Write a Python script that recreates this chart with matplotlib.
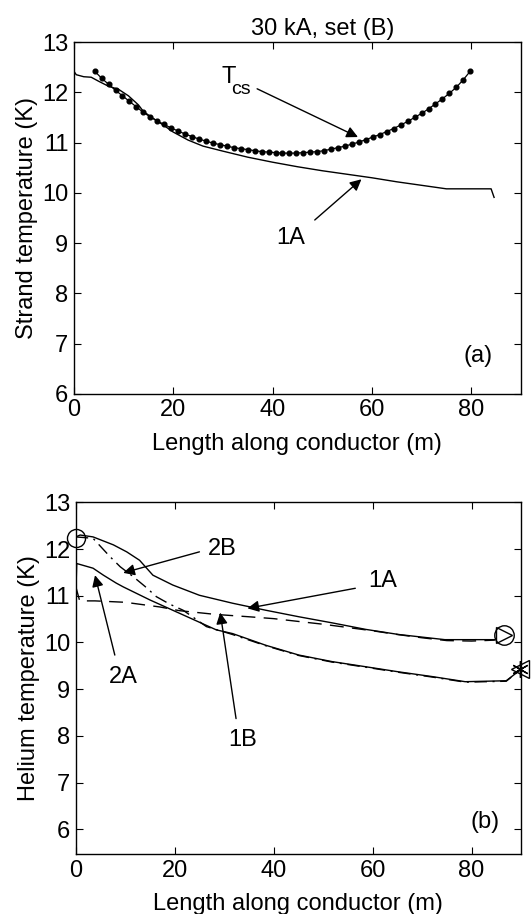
import matplotlib
matplotlib.use("Agg")
import matplotlib.pyplot as plt

plt.rcParams["font.family"] = ["Liberation Sans", "DejaVu Sans"]

# ---- panel (a): strand temperature ----
strand_1a_x = [0, 0.5, 2, 3.5, 5, 7, 9, 11, 13, 14, 16, 18, 20, 23, 26, 30, 35, 40,
               45, 50, 55, 60, 65, 70, 75, 84, 84.6]
strand_1a_y = [12.42, 12.35, 12.31, 12.30, 12.22, 12.12, 12.06, 11.93, 11.75, 11.62,
               11.48, 11.35, 11.21, 11.05, 10.93, 10.83, 10.71, 10.61, 10.52, 10.44,
               10.37, 10.30, 10.22, 10.15, 10.08, 10.08, 9.91]

tcs_x = [4.2, 5.6, 7.0, 8.4, 9.8, 11.2, 12.6, 14.0, 15.4, 16.8, 18.2, 19.6, 21.0, 22.4,
         23.8, 25.2, 26.6, 28.0, 29.4, 30.8, 32.2, 33.6, 35.0, 36.4, 37.8, 39.2, 40.6,
         42.0, 43.4, 44.8, 46.2, 47.6, 49.0, 50.4, 51.8, 53.2, 54.6, 56.0, 57.4, 58.8,
         60.2, 61.6, 63.0, 64.4, 65.8, 67.2, 68.6, 70.0, 71.4, 72.8, 74.2, 75.6, 77.0,
         78.4, 79.8]
tcs_y = [12.42, 12.28, 12.16, 12.04, 11.93, 11.82, 11.71, 11.60, 11.51, 11.43, 11.36,
         11.29, 11.23, 11.17, 11.12, 11.07, 11.03, 10.99, 10.96, 10.93, 10.90, 10.88,
         10.86, 10.84, 10.82, 10.81, 10.80, 10.79, 10.79, 10.79, 10.80, 10.81, 10.82,
         10.84, 10.87, 10.90, 10.93, 10.97, 11.01, 11.06, 11.11, 11.16, 11.22, 11.28,
         11.35, 11.42, 11.50, 11.58, 11.67, 11.77, 11.87, 11.98, 12.10, 12.25, 12.42]

# ---- panel (b): helium temperature ----
he_1a_x = [0, 0.9, 3.5, 7.6, 10.3, 12.9, 15.6, 19.6, 25.0, 31.7, 38.4, 45.1, 51.8,
           58.6, 65.3, 74.6, 84.7]
he_1a_y = [12.26, 12.30, 12.26, 12.09, 11.94, 11.76, 11.44, 11.23, 11.01, 10.84, 10.69,
           10.55, 10.42, 10.28, 10.17, 10.06, 10.06]

he_1b_x = [0, 0.8, 3.9, 10, 17, 21, 28.3, 35, 40, 45, 50, 55, 60, 65, 70, 75, 80, 84.7]
he_1b_y = [11.20, 10.89, 10.89, 10.86, 10.76, 10.68, 10.60, 10.55, 10.51, 10.45, 10.39,
           10.32, 10.25, 10.17, 10.10, 10.04, 10.03, 10.05]

he_2a_x = [0, 0.2, 3.5, 5.6, 8.2, 9.6, 15.0, 19.6, 21.7, 28.4, 31.7, 38.4, 45.1, 51.8,
           58.6, 65.3, 72.0, 78.7, 87.0, 89.7]
he_2a_y = [10.95, 11.69, 11.59, 11.44, 11.27, 11.19, 10.91, 10.69, 10.59, 10.27, 10.19,
           9.94, 9.73, 9.59, 9.48, 9.37, 9.27, 9.16, 9.18, 9.40]

he_2b_x = [0, 3.5, 6.9, 9.0, 11.6, 14.0, 16.3, 19.0, 21.7, 24.0, 26.4, 31.7, 38.4, 45.1,
           51.8, 58.6, 65.3, 72.0, 78.7, 87.0, 89.7]
he_2b_y = [12.26, 12.23, 11.84, 11.62, 11.41, 11.20, 10.98, 10.82, 10.69, 10.52, 10.34,
           10.17, 9.93, 9.72, 9.58, 9.47, 9.36, 9.26, 9.15, 9.17, 9.40]

# end-point markers of panel (b)
start_x, start_y = [0], [12.24]
end1_x, end1_y = [86.5], [10.17]
end2_x, end2_y = [89.7], [9.43]

xticks = [0, 20, 40, 60, 80]
yticks_a = [6, 7, 8, 9, 10, 11, 12, 13]
yticks_b = [6, 7, 8, 9, 10, 11, 12, 13]

FS = 17
arrow = dict(arrowstyle="-|>", color="k", lw=1.0, mutation_scale=17,
             shrinkA=0, shrinkB=0)


def style_axes(ax, ylim, yticks):
    ax.set_xlim(0, 90)
    ax.set_ylim(*ylim)
    ax.set_xticks(xticks)
    ax.set_yticks(yticks)
    ax.tick_params(direction="in", top=True, right=True, length=5, width=0.8,
                   labelsize=FS, pad=4)
    for s in ax.spines.values():
        s.set_linewidth(1.0)


fig = plt.figure(figsize=(5.31, 9.14), dpi=100)

# (a)
ax1 = fig.add_axes([0.139, 0.569, 0.842, 0.385])
ax1.plot(strand_1a_x, strand_1a_y, color="k", lw=1.0)
ax1.plot(tcs_x, tcs_y, color="k", lw=0.9, marker="o", markersize=3.4)
style_axes(ax1, (6, 13), yticks_a)
ax1.set_xlabel("Length along conductor (m)", fontsize=FS, labelpad=8)
ax1.set_ylabel("Strand temperature (K)", fontsize=FS, labelpad=3)
ax1.text(50, 1.037, "30 kA, set (B)", transform=ax1.get_xaxis_transform(),
         ha="center", va="center", fontsize=FS)
ax1.text(29.7, 12.18, "T", fontsize=FS, ha="left", va="baseline")
ax1.text(31.7, 11.96, "cs", fontsize=FS - 3, ha="left", va="baseline")
ax1.annotate("", xy=(57.2, 11.11), xytext=(36.9, 12.07), arrowprops=arrow)
ax1.text(43.7, 9.1, "1A", fontsize=FS, ha="center", va="center")
ax1.annotate("", xy=(57.9, 10.27), xytext=(48.5, 9.46), arrowprops=arrow)
ax1.text(81.4, 6.76, "(a)", fontsize=FS, ha="center", va="center")

# (b)
ax2 = fig.add_axes([0.1426, 0.0656, 0.8387, 0.3848])
ax2.plot(he_1a_x, he_1a_y, color="k", lw=1.0)
ax2.plot(he_1b_x, he_1b_y, color="k", lw=1.0, ls=(0, (10, 6)))
ax2.plot(he_2a_x, he_2a_y, color="k", lw=1.0)
ax2.plot(he_2b_x, he_2b_y, color="k", lw=1.0, ls=(0, (9, 4, 1.5, 4)))
ax2.plot(start_x, start_y, marker="o", mfc="none", mec="k", markersize=13,
         mew=1.0, clip_on=False)
ax2.plot(end1_x, end1_y, marker="o", mfc="none", mec="k", markersize=14, mew=1.0,
         clip_on=False)
ax2.plot(end1_x, end1_y, marker=">", mfc="none", mec="k", markersize=12, mew=1.0,
         clip_on=False)
ax2.plot(end2_x, end2_y, marker=(6, 2, 0), color="k", markersize=12, mew=1.0,
         clip_on=False)
ax2.plot(end2_x, end2_y, marker="<", mfc="none", mec="k", markersize=13, mew=1.0,
         clip_on=False)
style_axes(ax2, (5.47, 13), yticks_b)
ax2.set_xlabel("Length along conductor (m)", fontsize=FS, labelpad=8)
ax2.set_ylabel("Helium temperature (K)", fontsize=FS, labelpad=3)

ax2.text(29.7, 12.01, "2B", fontsize=FS, ha="center", va="center")
ax2.annotate("", xy=(9.6, 11.49), xytext=(25.0, 11.94), arrowprops=arrow)
ax2.text(62.0, 11.32, "1A", fontsize=FS, ha="center", va="center")
ax2.annotate("", xy=(34.7, 10.73), xytext=(56.5, 11.16), arrowprops=arrow)
ax2.text(9.7, 9.25, "2A", fontsize=FS, ha="center", va="center")
ax2.annotate("", xy=(3.9, 11.44), xytext=(7.9, 9.73), arrowprops=arrow)
ax2.text(33.7, 7.91, "1B", fontsize=FS, ha="center", va="center")
ax2.annotate("", xy=(29.2, 10.64), xytext=(32.4, 8.37), arrowprops=arrow)
ax2.text(82.7, 6.16, "(b)", fontsize=FS, ha="center", va="center")

fig.savefig("out.png", dpi=100)
